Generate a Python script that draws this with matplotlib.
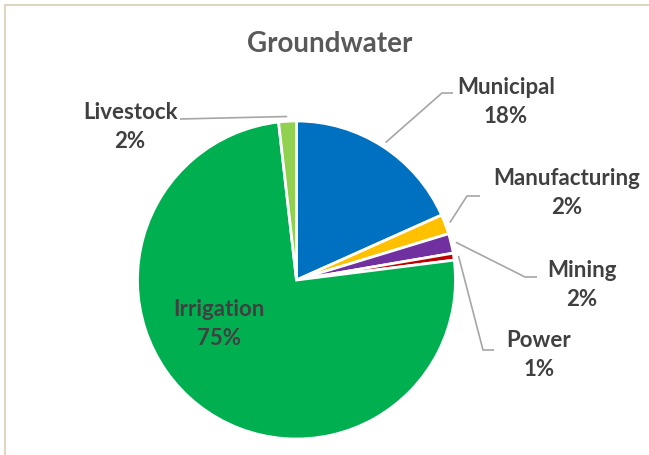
import matplotlib
matplotlib.use("Agg")
import matplotlib.pyplot as plt
from matplotlib.patches import Rectangle
import numpy as np

# data (share of groundwater use, %)
categories = ["Municipal", "Manufacturing", "Mining", "Power", "Irrigation", "Livestock"]
shares = [18.3, 2.0, 2.0, 0.7, 75.2, 1.8]
colors = ["#0070C0", "#FFC000", "#7030A0", "#C00000", "#00B050", "#92D050"]

W, H = 649, 456
TXT = "#404040"
LINE = "#A6A6A6"
FONT = "Lato"
FS = 16

fig = plt.figure(figsize=(W / 100, H / 100), dpi=100)
ax = fig.add_axes([0, 0, 1, 1])


def P(x, y):
    # image pixel coords (y down) -> axes coords (y up)
    return x, H - y


cx, cy = P(296.5, 281)
radius = 159

explode = [0.02, 0.02, 0.02, 0.02, 0.035, 0.02]
ax.pie(shares, colors=colors, startangle=90, counterclock=False,
       center=(cx, cy), radius=radius, explode=explode,
       wedgeprops=dict(edgecolor="white", linewidth=2))

# pie() resets the limits, so set them afterwards
ax.set_xlim(0, W)
ax.set_ylim(0, H)
ax.set_aspect("equal")
ax.axis("off")

# angle of each wedge midpoint (measured like the pie: from 90deg, clockwise)
cum = np.cumsum(shares)
mids = 90 - 360 * (cum - np.array(shares) / 2) / 100.0


def edge_pt(i, r=radius * 1.03):
    a = np.deg2rad(mids[i])
    return cx + r * np.cos(a), cy + r * np.sin(a)


# label layout: (text centre, elbow, line end) in image pixels
layout = {
    "Municipal": ((506, 102), (442, 94), (453, 94)),
    "Manufacturing": ((567, 193), (467, 197), (480, 197)),
    "Mining": ((582, 285), (525, 278), (537, 278)),
    "Power": ((539, 355), (483, 351), (494, 351)),
    "Livestock": ((130, 127), (180, 120), (180, 120)),
}

for i, name in enumerate(categories):
    label = f"{name}\n{round(shares[i]):d}%"
    if name == "Irrigation":
        ax.text(*P(219, 324), label, ha="center", va="center", fontsize=FS,
                fontweight="bold", color=TXT, family=FONT, linespacing=1.5)
        continue
    (tx, ty), elbow, end = layout[name]
    x0, y0 = edge_pt(i)
    ex, ey = P(*elbow)
    fx, fy = P(*end)
    ax.plot([x0, ex, fx], [y0, ey, fy], color=LINE, lw=1.2, solid_capstyle="butt")
    ax.text(*P(tx, ty), label, ha="center", va="center", fontsize=FS,
            fontweight="bold", color=TXT, family=FONT, linespacing=1.5)

ax.text(*P(330, 44), "Groundwater", ha="center", va="center", fontsize=20,
        fontweight="bold", color="#595959", family=FONT)

# chart area border (only top and left edges fall inside the crop)
fig.patches.append(Rectangle((4.5 / W, -0.1), 1.2, (H - 5.5) / H + 0.1,
                             transform=fig.transFigure, fill=False,
                             edgecolor="#DCD6C2", lw=1.5))

fig.savefig("out.png", dpi=100)
